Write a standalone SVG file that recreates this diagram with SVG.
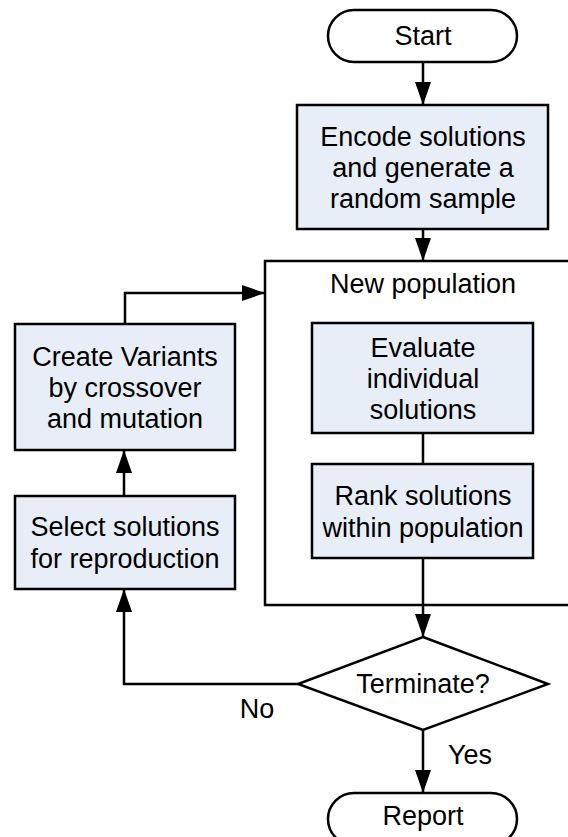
<svg xmlns="http://www.w3.org/2000/svg" width="568" height="837" viewBox="0 0 568 837">
<style>
.box{fill:#E8EEF7;stroke:#000;stroke-width:2.5}
.term{fill:#fff;stroke:#000;stroke-width:2.5}
.cont{fill:none;stroke:#000;stroke-width:2.5}
.line{fill:none;stroke:#000;stroke-width:2.5}
text{font-family:"Liberation Sans",Arial,sans-serif;font-size:27px;fill:#000;text-anchor:middle}
</style>
<defs>
<marker id="arr" markerUnits="userSpaceOnUse" markerWidth="24" markerHeight="16" refX="23" refY="8" orient="auto">
<path d="M0,0 L23,8 L0,16 Z" fill="#000"/>
</marker>
</defs>
<rect width="568" height="837" fill="#fff"/>
<g id="container">
<rect class="cont" x="265" y="261" width="330" height="344"/>
<text x="423" y="293">New population</text>
</g>
<g id="connectors">
<path class="line" d="M423,62 V105" marker-end="url(#arr)"/>
<path class="line" d="M423,229 V261" marker-end="url(#arr)"/>
<path class="line" d="M125,324 V293 H265" marker-end="url(#arr)"/>
<path class="line" d="M423,433 V464"/>
<path class="line" d="M423,558 V637" marker-end="url(#arr)"/>
<path class="line" d="M298,684 H124 V589" marker-end="url(#arr)"/>
<path class="line" d="M124,496 V450" marker-end="url(#arr)"/>
<path class="line" d="M423,730 V793" marker-end="url(#arr)"/>
<text x="257" y="718">No</text>
<text x="470" y="764">Yes</text>
</g>
<g id="start">
<rect class="term" x="328" y="10" width="189" height="52" rx="26"/>
<text x="423" y="45">Start</text>
</g>
<g id="encode">
<rect class="box" x="297" y="105" width="251" height="124"/>
<text x="423" y="146">Encode solutions</text>
<text x="423" y="177">and generate a</text>
<text x="423" y="208">random sample</text>
</g>
<g id="evaluate">
<rect class="box" x="312" y="323" width="221" height="110"/>
<text x="423" y="357">Evaluate</text>
<text x="423" y="388">individual</text>
<text x="423" y="419">solutions</text>
</g>
<g id="rank">
<rect class="box" x="312" y="464" width="221" height="94"/>
<text x="423" y="505">Rank solutions</text>
<text x="423" y="537">within population</text>
</g>
<g id="create">
<rect class="box" x="15" y="324" width="220" height="126"/>
<text x="125" y="366">Create Variants</text>
<text x="125" y="397">by crossover</text>
<text x="125" y="428">and mutation</text>
</g>
<g id="select">
<rect class="box" x="15" y="496" width="220" height="93"/>
<text x="125" y="536">Select solutions</text>
<text x="125" y="568">for reproduction</text>
</g>
<g id="terminate">
<polygon class="term" points="423,637 548,684 423,730 298,684"/>
<text x="423" y="693">Terminate?</text>
</g>
<g id="report">
<rect class="term" x="328" y="793" width="189" height="52" rx="26"/>
<text x="423" y="825">Report</text>
</g>
</svg>
